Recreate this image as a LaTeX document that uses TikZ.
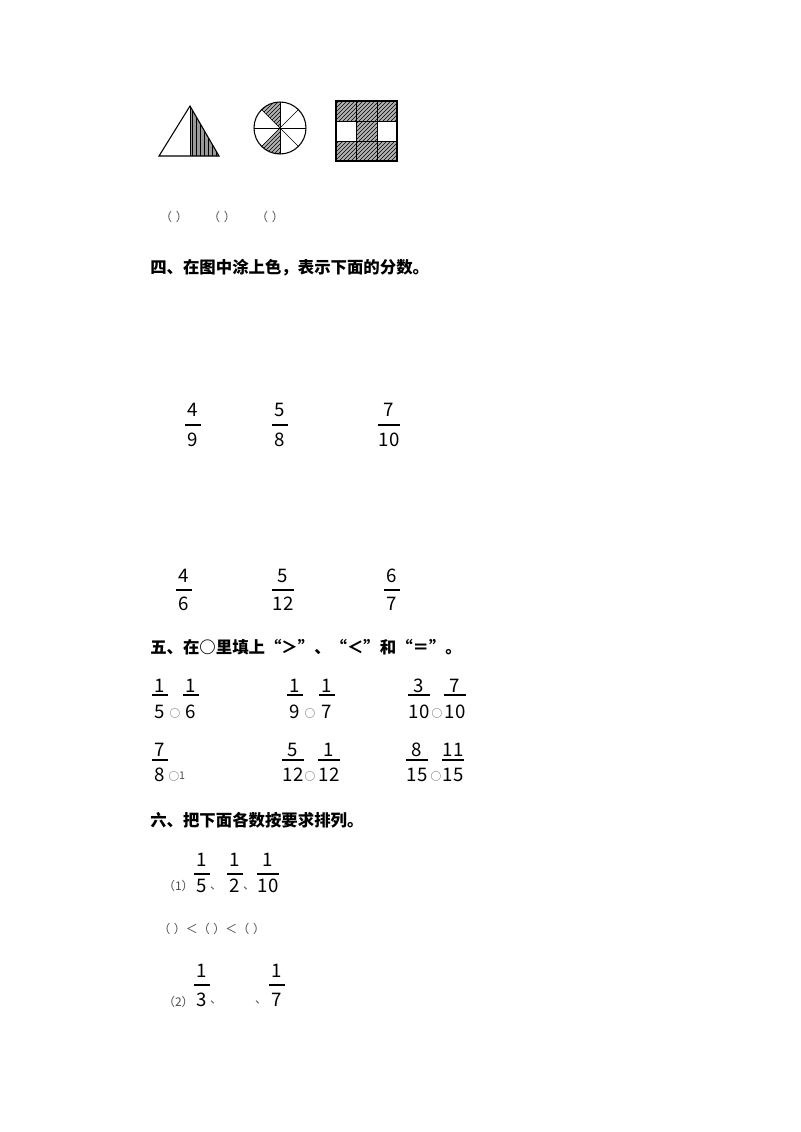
\documentclass[tikz,border=0pt]{standalone}
\usepackage{fontspec}
\setmainfont{Noto Sans CJK SC}
\usetikzlibrary{patterns}
\tikzset{
 hd/.style={anchor=west,font=\bfseries\fontsize{12.3}{14}\selectfont,inner sep=0pt},
 dg/.style={font=\fontsize{14}{16}\selectfont,inner sep=0pt},
 sm/.style={font=\fontsize{9}{10}\selectfont,inner sep=0pt,text=black!70},
 cir/.style={font=\fontsize{8}{10}\selectfont,inner sep=0pt,text=black!70},
 fl/.style={line width=0.9pt},
 sh/.style={fill=black!30,postaction={pattern=north east lines}}
}
% \fr{name}{x}{ynum}{yline}{yden}{num}{den}{halfwidth}
\newcommand{\fr}[8]{%
 \node[dg] (#1n) at (#2,#3) {#6};
 \node[dg] (#1d) at (#2,#5) {#7};
 \draw[fl] (#2-#8,#4) -- (#2+#8,#4);}
\begin{document}
\begin{tikzpicture}[x=0.75pt,y=-0.75pt]
\useasboundingbox (0,0) rectangle (800,1132);
% triangle
\fill[fill=black!40,postaction={pattern=vertical lines}] (190,106) -- (219,156) -- (190,156) -- cycle;
\draw[thick] (190,106) -- (219,156) -- (159,156) -- cycle;
\draw (190,106) -- (190,156);
% circle
\fill[sh] (280,128) -- ++(90:26) arc (90:135:26) -- cycle;
\fill[sh] (280,128) -- ++(225:26) arc (225:270:26) -- cycle;
\draw[thick] (280,128) circle[radius=26];
\foreach \a in {0,45,90,135} \draw (280,128) ++(\a:26) -- ++(\a+180:52);
% grid
\fill[sh] (336,101) rectangle (397,121);
\fill[sh] (336,141) rectangle (397,161);
\fill[sh] (356,121) rectangle (377,141);
\draw[thick] (336,101) rectangle (397,161);
\draw (356,101) -- (356,161) (377,101) -- (377,161) (336,121) -- (397,121) (336,141) -- (397,141);
\node[sm] (p1) at (174,217) {（\hspace{0.3em}）};
\node[sm] (p2) at (222,217) {（\hspace{0.3em}）};
\node[sm] (p3) at (270,217) {（\hspace{0.3em}）};
\node[hd] (h4) at (150,268) {四、在图中涂上色，表示下面的分数。};
\fr{a}{193}{410}{425}{440}{4}{9}{8}
\fr{b}{280}{410}{425}{440}{5}{8}{8}
\fr{c}{389}{410}{425}{440}{7}{10}{11}
\fr{d}{184}{576}{590}{604}{4}{6}{8}
\fr{e}{283}{576}{590}{604}{5}{12}{11}
\fr{f}{392}{576}{590}{604}{6}{7}{8}
\node[hd] (h5) at (150,647) {五、在○里填上“＞”、“＜”和“＝”。};
\fr{g1}{160}{686}{695}{712}{1}{5}{8}
\node[cir] (c1) at (175,713) {○};
\fr{g2}{191}{686}{695}{712}{1}{6}{8}
\fr{g3}{295}{686}{695}{712}{1}{9}{8}
\node[cir] (c2) at (310,713) {○};
\fr{g4}{327}{686}{695}{712}{1}{7}{8}
\fr{g5}{419}{686}{695}{712}{3}{10}{11}
\node[cir] (c3) at (437,713) {○};
\fr{g6}{455}{686}{695}{712}{7}{10}{11}
\fr{g7}{160}{750}{760}{775}{7}{8}{8}
\node[cir] (c4) at (174,776) {○};
\node[cir] (o1) at (182,776) {1};
\fr{g8}{293}{750}{760}{775}{5}{12}{11}
\node[cir] (c5) at (310,776) {○};
\fr{g9}{329}{750}{760}{775}{1}{12}{11}
\fr{g10}{417}{750}{760}{775}{8}{15}{11}
\node[cir] (c6) at (436,776) {○};
\fr{g11}{453}{750}{760}{775}{11}{15}{11}
\node[hd] (h6) at (150,820) {六、把下面各数按要求排列。};
\node[sm,anchor=east] (q1) at (194,886) {（1）};
\fr{k1}{202}{860}{874}{886}{1}{5}{8}
\node[sm] (k1s) at (216,888) {、};
\fr{k2}{235}{860}{874}{886}{1}{2}{8}
\node[sm] (k2s) at (249,888) {、};
\fr{k3}{268}{860}{874}{886}{1}{10}{11}
\node[sm,anchor=west] (ord) at (158,929) {（\hspace{0.3em}）＜（\hspace{0.3em}）＜（\hspace{0.3em}）};
\node[sm,anchor=east] (q2) at (194,1002) {（2）};
\fr{m1}{202}{971}{985}{1000}{1}{3}{8}
\node[sm] (m1s) at (216,1002) {、};
\node[sm] (m2s) at (261,1002) {、};
\fr{m2}{277}{971}{985}{1000}{1}{7}{8}
\end{tikzpicture}
\end{document}
